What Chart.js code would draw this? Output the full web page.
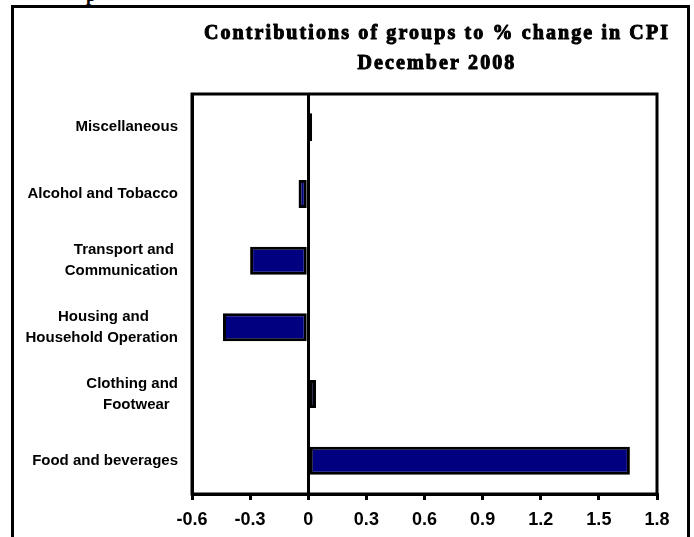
<!DOCTYPE html>
<html>
<head>
<meta charset="utf-8">
<script src="https://cdn.jsdelivr.net/npm/chart.js@4.4.1/dist/chart.umd.min.js"></script>
<style>
  body { margin: 0; background: #fff; }
  #wrap { position: relative; width: 694px; height: 537px; overflow: hidden; }
  #frame {
    position: absolute; left: 11px; top: 5px; width: 673px; height: 600px;
    border: 3px solid #000; border-bottom: none;
  }
  #cut { position: absolute; left: 86px; top: -15px; color: #000; font: bold 18px 'Liberation Serif', serif; }
  canvas { position: absolute; left: 0; top: 0; }
</style>
</head>
<body>
<div id="wrap">
  <div id="cut">p</div>
  <div id="frame"></div>
  <canvas id="cpi-chart" width="694" height="537"></canvas>
</div>
<script>
// Dados do gráfico
const titleLines = ['Contributions of groups to % change in CPI', 'December 2008'];
const categories = [
  'Miscellaneous',
  'Alcohol and Tobacco',
  'Transport and Communication',
  'Housing and Household Operation',
  'Clothing and Footwear',
  'Food and beverages',
];
// rótulos do eixo como aparecem (quebra de linha e espaços do original)
const categoryLabelLines = [
  ['Miscellaneous'],
  ['Alcohol and Tobacco'],
  ['Transport and ', 'Communication'],
  ['Housing and       ', 'Household Operation'],
  ['Clothing and', 'Footwear  '],
  ['Food and beverages'],
];
const contributions = [0.02, -0.05, -0.3, -0.44, 0.04, 1.66];
const xTickValues = [-0.6, -0.3, 0, 0.3, 0.6, 0.9, 1.2, 1.5, 1.8];

// Título e moldura da área do gráfico
const framePlugin = {
  id: 'framePlugin',
  afterDraw(chart) {
    const { ctx, chartArea } = chart;
    ctx.save();
    ctx.strokeStyle = '#000';
    ctx.lineWidth = 3;
    ctx.strokeRect(chartArea.left, chartArea.top, chartArea.right - chartArea.left, chartArea.bottom - chartArea.top);
    ctx.fillStyle = '#000';
    ctx.font = 'bold 20px "Liberation Serif", serif';
    ctx.letterSpacing = '2.1px';
    ctx.textAlign = 'center';
    ctx.textBaseline = 'alphabetic';
    ctx.lineWidth = 1;
    ctx.lineJoin = 'round';
    titleLines.forEach((line, i) => {
      ctx.fillText(line, 437, 39 + i * 30);
      ctx.strokeText(line, 437, 39 + i * 30);
    });
    ctx.restore();
  },
};

const chartCanvas = document.getElementById('cpi-chart');

new Chart(chartCanvas, {
  type: 'bar',
  data: {
    labels: categoryLabelLines,
    datasets: [
      {
        label: 'Contribution',
        data: contributions,
        backgroundColor: '#000080',
        borderColor: '#000',
        borderWidth: 3,
        borderSkipped: false,
        barPercentage: 0.42,
        categoryPercentage: 1,
      },
    ],
  },
  options: {
    indexAxis: 'y',
    responsive: false,
    animation: false,
    layout: { padding: { top: 94, right: 37, bottom: 0, left: 0 } },
    plugins: {
      legend: { display: false },
      title: { display: false },
      tooltip: { enabled: false },
    },
    scales: {
      x: {
        min: -0.6,
        max: 1.8,
        afterBuildTicks: (scale) => {
          scale.ticks = xTickValues.map((v) => ({ value: v }));
        },
        afterFit: (scale) => {
          scale.height = 43;
        },
        grid: {
          color: (ctx) => (ctx.tick && ctx.tick.value === 0 ? '#000' : 'rgba(0,0,0,0)'),
          lineWidth: 3,
          tickColor: '#000',
          tickWidth: 3,
          tickLength: 6,
        },
        border: { display: true, color: '#000', width: 3 },
        ticks: {
          color: '#000',
          padding: 9,
          maxRotation: 0,
          font: { family: '"Liberation Sans", Arial, sans-serif', size: 18, weight: 'bold' },
          callback: (value) => String(Number(value.toFixed(1))),
        },
      },
      y: {
        afterFit: (scale) => {
          scale.width = 192;
        },
        grid: { display: false, drawTicks: false, tickLength: 0 },
        border: { display: true, color: '#000', width: 3 },
        ticks: {
          color: '#000',
          padding: 14,
          font: { family: '"Liberation Sans", Arial, sans-serif', size: 15, weight: 'bold', lineHeight: 1.4 },
        },
      },
    },
  },
  plugins: [framePlugin],
});
</script>
</body>
</html>
